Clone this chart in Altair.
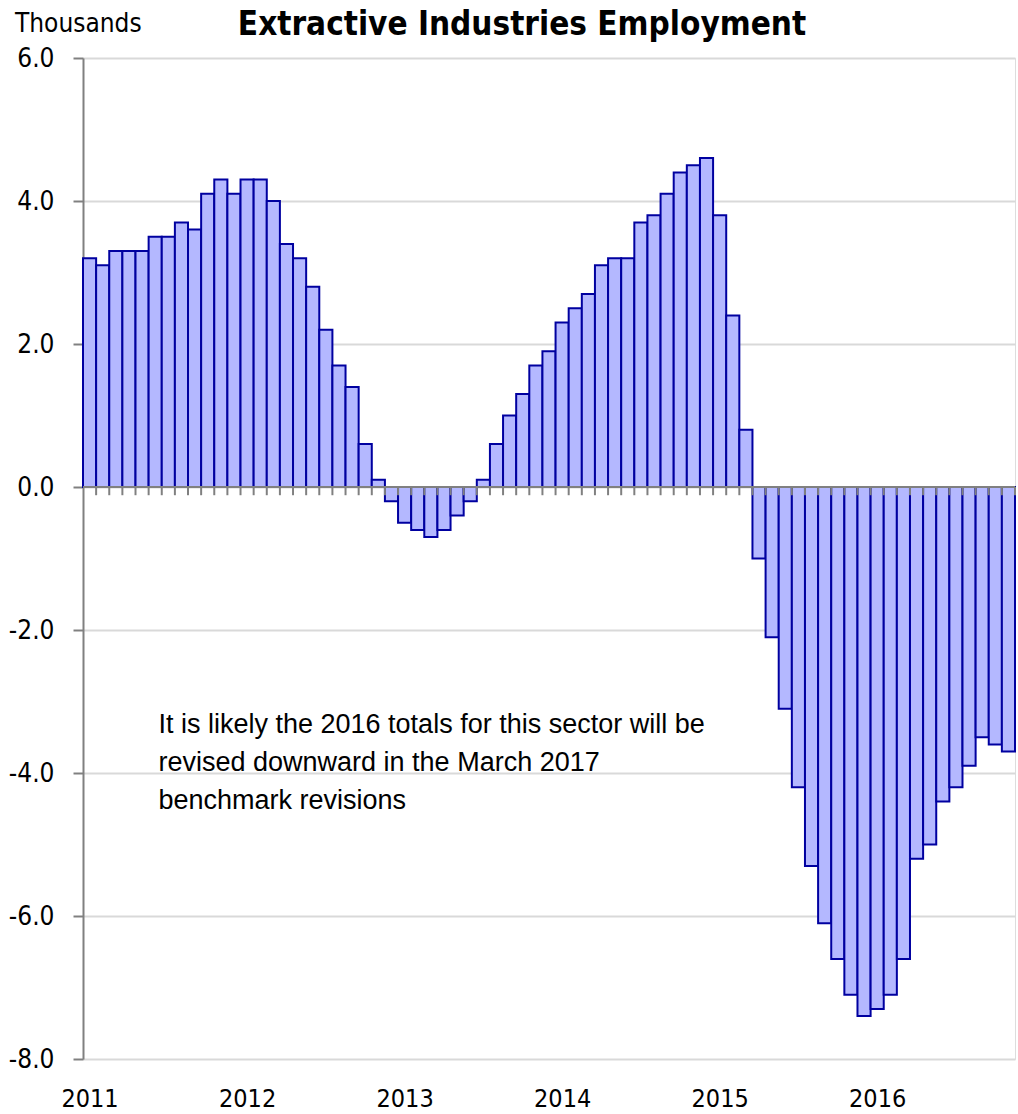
import altair as alt
import pandas as pd

years = ["2011", "2012", "2013", "2014", "2015", "2016"]
v2011 = [3.2, 3.1, 3.3, 3.3, 3.3, 3.5, 3.5, 3.7, 3.6, 4.1, 4.3, 4.1]
v2012 = [4.3, 4.3, 4.0, 3.4, 3.2, 2.8, 2.2, 1.7, 1.4, 0.6, 0.1, -0.2]
v2013 = [-0.5, -0.6, -0.7, -0.6, -0.4, -0.2, 0.1, 0.6, 1.0, 1.3, 1.7, 1.9]
v2014 = [2.3, 2.5, 2.7, 3.1, 3.2, 3.2, 3.7, 3.8, 4.1, 4.4, 4.5, 4.6]
v2015 = [3.8, 2.4, 0.8, -1.0, -2.1, -3.1, -4.2, -5.3, -6.1, -6.6, -7.1, -7.4]
v2016 = [-7.3, -7.1, -6.6, -5.2, -5.0, -4.4, -4.2, -3.9, -3.5, -3.6, -3.7]
y_ticks = [-8, -6, -4, -2, 0, 2, 4, 6]
title_text = "Extractive Industries Employment"
unit_text = "Thousands"
note_lines = [
    "It is likely the 2016 totals for this sector will be",
    "revised downward in the March 2017",
    "benchmark revisions",
]

values = v2011 + v2012 + v2013 + v2014 + v2015 + v2016
n = len(values)
df = pd.DataFrame({
    "start": list(range(n)),
    "end": [i + 1 for i in range(n)],
    "value": values,
})
tick_df = pd.DataFrame({"pos": list(range(1, n + 1)), "top": [0.0] * n, "bot": [-0.115] * n})
zero_df = pd.DataFrame({"a": [0], "b": [n], "y": [0.0]})
note_df = pd.DataFrame({"x": [5.75], "y": [-3.44], "t": [note_lines]})
label_pos = [0.5 + 12 * k for k in range(len(years))]
label_expr = "{" + ",".join(f"'{p}':'{y}'" for p, y in zip(label_pos, years)) + "}[datum.value]"

FONT = "Liberation Sans Narrow, Arial Narrow, DejaVu Sans Condensed, sans-serif"
NOTE_FONT = "Liberation Sans, Arial, sans-serif"
W, H = 932, 1001

xscale = alt.Scale(domain=[0, n], nice=False, zero=False)
yscale = alt.Scale(domain=[-8, 6], nice=False)

bars = alt.Chart(df).mark_bar(
    fill="#b4b8ff", stroke="#0000a0", strokeWidth=2, strokeJoin="miter"
).encode(
    x=alt.X("start:Q", scale=xscale, axis=alt.Axis(
        values=label_pos, labelExpr=label_expr, title=None, domain=False, ticks=False,
        tickSize=0, grid=False, labelFont=FONT, labelFontSize=25, labelColor="#000000",
        labelPadding=27, labelFlush=False)),
    x2="end:Q",
    y=alt.Y("value:Q", scale=yscale, axis=alt.Axis(
        values=y_ticks, labelExpr="replace(format(datum.value, '.1f'), '\u2212', '-')",
        title=None, domainColor="#808080", domainWidth=2,
        tickColor="#808080", tickWidth=2, tickSize=10, gridColor="#d9d9d9", gridWidth=2,
        labelFont=FONT, labelFontSize=26, labelColor="#000000", labelPadding=19)),
    y2=alt.datum(0),
)

zero_line = alt.Chart(zero_df).mark_rule(color="#808080", strokeWidth=2).encode(
    x=alt.X("a:Q", scale=xscale), x2="b:Q", y=alt.Y("y:Q", scale=yscale)
)

ticks = alt.Chart(tick_df).mark_rule(color="#808080", strokeWidth=2).encode(
    x=alt.X("pos:Q", scale=xscale), y=alt.Y("top:Q", scale=yscale), y2="bot:Q"
)

note = alt.Chart(note_df).mark_text(
    align="left", baseline="alphabetic", font=NOTE_FONT, fontSize=27, lineHeight=38, color="#000000"
).encode(x=alt.X("x:Q", scale=xscale), y=alt.Y("y:Q", scale=yscale), text="t")

title = alt.Chart(zero_df).mark_text(
    align="center", baseline="alphabetic", font=FONT, fontSize=33, fontWeight="bold", color="#000000"
).encode(x=alt.value(439), y=alt.value(-23), text=alt.value(title_text))

unit = alt.Chart(zero_df).mark_text(
    align="left", baseline="alphabetic", font=FONT, fontSize=26, color="#000000"
).encode(x=alt.value(-68), y=alt.value(-26), text=alt.value(unit_text))

chart = alt.layer(bars, zero_line, ticks, note, title, unit).properties(
    width=W, height=H,
    autosize=alt.AutoSizeParams(type="none"),
    padding={"left": 83, "top": 58, "right": 3, "bottom": 55},
).configure_view(stroke=None, clip=False).configure(background="white")

chart.save("out.html", embed_options={"renderer": "svg", "actions": False})
